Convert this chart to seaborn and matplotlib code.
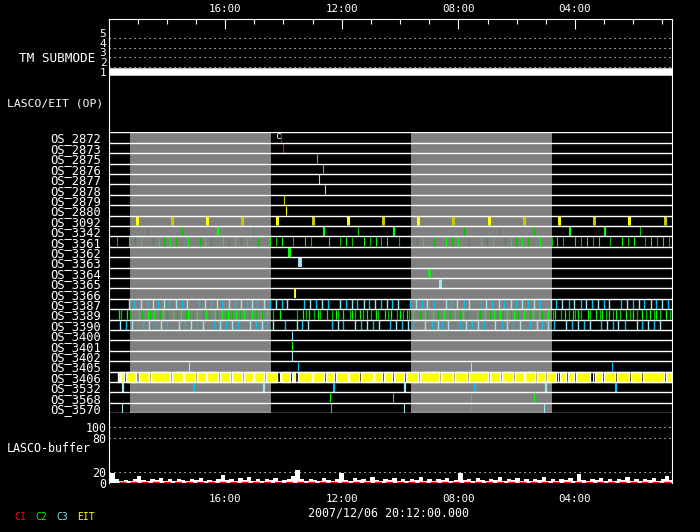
import matplotlib
matplotlib.use('Agg')
import matplotlib.pyplot as plt
import seaborn as sns
from matplotlib.ticker import FixedLocator

# time axis = hours elapsed since the left edge (clock runs 20:00 -> 00:40)
t_end = 19.31
clock_ticks = [4, 8, 12, 16]
clock_labels = ['16:00', '12:00', '08:00', '04:00']
hour_ticks = [1, 2, 3, 5, 6, 7, 9, 10, 11, 13, 14, 15, 17, 18, 19]

submode_time = [0.0, 19.31]
submode_val = [1, 1]

gap_start = [0.74, 10.37]
gap_end = [5.57, 15.20]

os_names = ['OS_2872', 'OS_2873', 'OS_2875', 'OS_2876', 'OS_2877', 'OS_2878',
            'OS_2879', 'OS_2880', 'OS_3092', 'OS_3342', 'OS_3361', 'OS_3362',
            'OS_3363', 'OS_3364', 'OS_3365', 'OS_3366', 'OS_3387', 'OS_3389',
            'OS_3390', 'OS_3400', 'OS_3401', 'OS_3402', 'OS_3405', 'OS_3406',
            'OS_3532', 'OS_3568', 'OS_3570']

os2872 = [5.92]
os2873 = [5.99]
os2875 = [7.16]
os2876 = [7.36]
os2877 = [7.23]
os2878 = [7.43]
os2879 = [6.03]
os2880 = [6.09]
os3092 = [0.97, 2.17, 3.39, 4.59, 5.79, 7.00, 8.20, 9.42, 10.62, 11.82, 13.04,
          14.24, 15.45, 16.65, 17.85, 19.08]
os3342_thin = [1.33, 2.53, 4.94, 8.56, 12.20, 13.40, 14.60, 18.23]
os3342_thick = [3.75, 7.38, 9.79, 15.82, 17.02]
os3361 = [0.30, 0.71, 0.92, 1.12, 1.54, 1.74, 1.91, 2.12, 2.32, 2.74, 3.15, 3.32,
          3.52, 3.94, 4.14, 4.35, 4.55, 4.76, 5.14, 5.55, 5.75, 5.96, 6.33, 6.75,
          6.95, 7.57, 7.95, 8.15, 8.36, 8.77, 8.97, 9.18, 9.35, 9.56, 9.97, 10.38,
          10.59, 10.79, 11.17, 11.58, 11.79, 11.99, 12.37, 12.78, 12.99, 13.19,
          13.60, 13.81, 13.98, 14.19, 14.39, 14.80, 15.21, 15.39, 15.59, 16.00,
          16.21, 16.41, 16.62, 16.82, 17.20, 17.61, 17.82, 18.02, 18.40, 18.61,
          18.81, 19.02, 19.22]
os3362 = [6.19]
os3363 = [6.56]
os3364 = [10.98]
os3365 = [11.38]
os3366 = [6.38]
os3387 = [0.69, 0.88, 1.10, 1.31, 1.52, 1.69, 1.89, 2.08, 2.30, 2.51, 2.70, 3.09,
          3.30, 3.50, 3.71, 3.91, 4.12, 4.33, 4.53, 4.74, 4.91, 5.11, 5.32, 5.53,
          5.73, 5.94, 6.11, 6.71, 6.92, 7.12, 7.33, 7.53, 7.93, 8.13, 8.34, 8.54,
          8.75, 8.92, 9.13, 9.33, 9.54, 9.73, 9.93, 10.35, 10.55, 10.74, 10.94,
          11.15, 11.56, 11.76, 11.97, 12.18, 12.36, 12.76, 12.96, 13.17, 13.38,
          13.58, 13.79, 13.97, 14.17, 14.38, 14.59, 14.79, 15.16, 15.34, 15.57,
          15.78, 15.98, 16.19, 16.39, 16.57, 16.78, 16.99, 17.17, 17.58, 17.78,
          17.99, 18.18, 18.38, 18.59, 18.79, 19.00, 19.20]
os3389 = [0.37, 0.44, 0.64, 0.75, 1.06, 1.16, 1.36, 1.43, 1.57, 1.78, 1.88, 2.00,
          2.22, 2.34, 2.50, 2.66, 2.74, 2.91, 3.04, 3.25, 3.34, 3.46, 3.65, 3.73,
          3.88, 4.04, 4.10, 4.24, 4.39, 4.51, 4.64, 4.83, 4.91, 5.05, 5.22, 5.27,
          5.42, 5.65, 5.88, 6.47, 6.68, 6.79, 6.88, 7.05, 7.19, 7.25, 7.48, 7.67,
          7.82, 7.88, 8.05, 8.28, 8.34, 8.45, 8.62, 8.73, 8.85, 9.02, 9.19, 9.25,
          9.48, 9.59, 9.69, 9.90, 9.99, 10.11, 10.24, 10.31, 10.45, 10.70, 10.84,
          10.93, 11.13, 11.31, 11.50, 11.73, 11.89, 12.07, 12.16, 12.30, 12.64,
          12.74, 12.92, 13.10, 13.22, 13.31, 13.42, 13.53, 13.67, 13.82, 13.90,
          14.06, 14.24, 14.45, 14.56, 14.68, 14.75, 14.86, 15.09, 15.25, 15.32,
          15.52, 15.66, 15.80, 15.93, 16.00, 16.12, 16.21, 16.46, 16.51, 16.71,
          16.85, 16.94, 17.08, 17.17, 17.30, 17.42, 17.53, 17.74, 17.88, 17.99,
          18.11, 18.29, 18.45, 18.56, 18.70, 18.79, 18.91, 19.11, 19.25]
os3390 = [0.40, 0.61, 0.82, 1.19, 1.40, 1.60, 1.81, 2.02, 2.41, 2.61, 2.82, 3.02,
          3.23, 3.63, 3.83, 4.02, 4.22, 4.43, 4.84, 5.05, 5.25, 5.42, 5.63, 6.04,
          6.45, 6.64, 6.85, 7.65, 7.86, 8.06, 8.45, 8.66, 8.86, 9.07, 9.27, 9.66,
          9.87, 10.05, 10.26, 10.46, 10.87, 11.08, 11.29, 11.44, 11.65, 12.06,
          12.27, 12.47, 12.68, 12.88, 13.27, 13.48, 13.68, 13.89, 14.10, 14.47,
          14.68, 14.88, 15.09, 15.27, 15.68, 15.89, 16.09, 16.30, 16.51, 16.89,
          17.10, 17.30, 17.49, 17.70, 18.11, 18.31, 18.52, 18.72, 18.93]
os3400 = [6.30]
os3401 = [6.30]
os3402 = [6.30]
os3405 = [2.77, 6.51, 12.44, 17.27]
os3406_start = [0.32, 0.43, 0.60, 1.03, 1.46, 2.17, 2.60, 3.02, 3.39, 3.83, 4.22,
                4.66, 5.00, 5.40, 5.92, 6.32, 6.51, 7.03, 7.46, 7.81, 8.24, 8.66,
                9.12, 9.44, 9.79, 10.20, 10.68, 11.41, 11.87, 12.35, 13.08, 13.49,
                13.93, 14.30, 14.70, 15.05, 15.48, 15.75, 16.03, 16.68, 17.00,
                17.45, 17.91, 18.33, 19.11]
os3406_end = [0.38, 0.54, 0.96, 1.40, 2.11, 2.54, 2.97, 3.34, 3.75, 4.17, 4.59,
              4.95, 5.34, 5.78, 6.22, 6.39, 6.98, 7.40, 7.75, 8.20, 8.60, 9.06,
              9.38, 9.74, 10.15, 10.62, 11.35, 11.81, 12.29, 13.01, 13.44, 13.88,
              14.24, 14.64, 14.97, 15.34, 15.68, 15.96, 16.51, 16.94, 17.37,
              17.85, 18.28, 19.04, 19.30]
os3406_white = [5.88, 6.31, 15.40, 16.61]
os3532 = [0.49, 2.93, 5.33, 7.74, 10.16, 12.56, 15.00, 17.40]
os3568 = [7.59, 9.76, 12.44, 14.60]
os3570 = [0.47, 7.64, 10.14, 12.44, 14.94]

# LASCO buffer fill level (%), sampled evenly across the time axis
buffer_val = [17, 17, 8, 4, 6, 4, 7, 13, 6, 4, 8, 5, 9, 4, 7, 4, 8, 6, 4, 7, 5, 9,
              4, 6, 4, 8, 14, 5, 7, 4, 9, 6, 10, 4, 7, 4, 8, 5, 9, 4, 6, 8, 12, 24,
              7, 4, 8, 6, 4, 9, 5, 4, 8, 17, 6, 4, 9, 5, 8, 4, 10, 6, 4, 8, 5, 9, 4,
              7, 4, 8, 6, 10, 4, 7, 4, 8, 5, 9, 4, 6, 18, 5, 8, 4, 9, 6, 4, 8, 5, 10,
              4, 7, 5, 9, 4, 7, 4, 8, 6, 10, 4, 7, 4, 8, 5, 9, 4, 16, 6, 4, 8, 5, 9,
              4, 7, 4, 8, 6, 10, 4, 7, 4, 8, 5, 9, 4, 7, 13, 6]
c1_time = [0.35, 19.31]
c1_val = [0.9, 0.9]

sns.set_theme(style='dark', rc={'axes.facecolor': 'black', 'figure.facecolor': 'black',
                                'axes.edgecolor': 'white', 'text.color': 'white',
                                'xtick.color': 'white', 'ytick.color': 'white'})
plt.rcParams['font.family'] = ['DejaVu Sans Mono', 'DejaVu Sans']

YEL, OLIVE = '#ffff00', '#c8c800'
GRN, DGRN = '#00ff00', '#00c000'
LCYAN, CYAN = '#99e6f5', '#00c0f0'
RED = '#ff0000'

W, H = 700, 532
L, R = 108.5, 671.5


def box(top, bottom):
    return [L / W, 1 - bottom / H, (R - L) / W, (bottom - top) / H]


fig = plt.figure(figsize=(7, 5.32), dpi=100)

# outer frame with hour ticks on top
ax_frame = fig.add_axes(box(19, 483))
ax_frame.set_facecolor('black')
ax_frame.set_xlim(0, t_end)
ax_frame.set_ylim(0, 1)
ax_frame.set_yticks([])
for s in ['top', 'left', 'right']:
    ax_frame.spines[s].set_color('white')
    ax_frame.spines[s].set_linewidth(0.8)
ax_frame.spines['bottom'].set_visible(False)
ax_frame.xaxis.set_major_locator(FixedLocator(clock_ticks))
ax_frame.xaxis.set_minor_locator(FixedLocator(hour_ticks))
ax_frame.set_xticklabels(clock_labels)
ax_frame.tick_params(axis='x', which='both', direction='in', top=True, bottom=False,
                     labeltop=True, labelbottom=False, color='white', width=0.8)
ax_frame.tick_params(axis='x', which='major', length=7.5, pad=3.5, labelsize=7.8,
                     labelcolor='white')
ax_frame.tick_params(axis='x', which='minor', length=3.8)

# TM submode panel
ax_sub = fig.add_axes(box(28, 77))
ax_sub.set_facecolor('none')
sns.lineplot(x=submode_time, y=submode_val, ax=ax_sub, color='white', linewidth=5.4)
for v in [1.5, 2.5, 3.5, 4.5]:
    ax_sub.axhline(v, color='white', lw=0.8, ls=(0, (1, 3.5)))
ax_sub.set_xlim(0, t_end)
ax_sub.set_ylim(0.49, 5.51)
ax_sub.set_xticks([])
ax_sub.set_yticks([1, 2, 3, 4, 5])
ax_sub.tick_params(axis='y', length=0, pad=1.5, labelsize=8, labelcolor='white')
for s in ax_sub.spines.values():
    s.set_visible(False)

# observing-sequence rows
ax_os = fig.add_axes(box(132.3, 413.3))
ax_os.set_facecolor('none')
n = len(os_names)
for a, b in zip(gap_start, gap_end):
    ax_os.axvspan(a, b, color='#808080', lw=0, zorder=0)


def marks(name, times, colors, width):
    i = os_names.index(name)
    cols = [colors[k % len(colors)] for k in range(len(times))]
    ax_os.vlines(times, i + 0.05, i + 0.95, colors=cols, linewidth=width, zorder=2)


marks('OS_2872', os2872, [RED], 0.8)
marks('OS_2873', os2873, [RED], 0.8)
marks('OS_2875', os2875, [GRN], 0.8)
marks('OS_2876', os2876, [GRN], 0.8)
marks('OS_2877', os2877, [LCYAN], 0.8)
marks('OS_2878', os2878, [LCYAN], 0.8)
marks('OS_2879', os2879, [OLIVE], 0.8)
marks('OS_2880', os2880, [YEL], 0.8)
marks('OS_3092', os3092, [YEL, OLIVE], 2.2)
marks('OS_3342', os3342_thin, [DGRN], 0.8)
marks('OS_3342', os3342_thick, [GRN], 1.6)
marks('OS_3361', os3361, [DGRN, GRN], 0.8)
marks('OS_3362', os3362, [GRN], 2.2)
marks('OS_3363', os3363, [LCYAN], 2.8)
marks('OS_3364', os3364, [GRN], 1.8)
marks('OS_3365', os3365, [LCYAN], 2.2)
marks('OS_3366', os3366, [YEL], 1.4)
marks('OS_3387', os3387, [LCYAN, CYAN], 1.0)
marks('OS_3389', os3389, [GRN, DGRN], 0.9)
marks('OS_3390', os3390, [LCYAN, CYAN], 1.0)
marks('OS_3400', os3400, [LCYAN], 0.8)
marks('OS_3401', os3401, [GRN], 0.8)
marks('OS_3402', os3402, [LCYAN], 0.8)
marks('OS_3405', os3405, [LCYAN, CYAN], 0.8)
i3406 = os_names.index('OS_3406')
ax_os.broken_barh([(a, b - a) for a, b in zip(os3406_start, os3406_end)],
                  (i3406 + 0.05, 0.9), facecolors=YEL, zorder=2)
marks('OS_3406', os3406_white, ['white'], 0.8)
marks('OS_3532', os3532, [LCYAN, CYAN], 1.6)
marks('OS_3568', os3568, [GRN], 0.8)
marks('OS_3570', os3570, [LCYAN, CYAN], 0.8)
ax_os.text(5.81, 0.4, 'c', color='white', fontsize=7, ha='center', va='center')

ax_os.hlines(range(n + 1), 0, t_end, color='white', lw=1.0, zorder=3)
ax_os.set_xlim(0, t_end)
ax_os.set_ylim(n, 0)
ax_os.set_xticks([])
ax_os.set_yticks([k + 0.5 for k in range(n)])
ax_os.set_yticklabels(os_names)
ax_os.tick_params(axis='y', length=0, pad=5.2, labelsize=8.7, labelcolor='white')
for s in ax_os.spines.values():
    s.set_visible(False)

# LASCO buffer panel
ax_buf = fig.add_axes(box(414, 483))
ax_buf.set_facecolor('none')
buffer_time = [t_end * k / (len(buffer_val) - 1) for k in range(len(buffer_val))]
ax_buf.fill_between(buffer_time, 0, buffer_val, step='mid', color='white', lw=0)
sns.lineplot(x=c1_time, y=c1_val, ax=ax_buf, color=RED, linewidth=1.0,
             dashes=False, linestyle=(0, (5, 3)))
for v in [20, 80, 100]:
    ax_buf.axhline(v, color='white', lw=0.8, ls=(0, (1, 3.5)))
ax_buf.set_xlim(0, t_end)
ax_buf.set_ylim(0, 123)
ax_buf.set_yticks([0, 20, 80, 100])
ax_buf.set_xticks(clock_ticks)
ax_buf.set_xticklabels(clock_labels)
ax_buf.tick_params(axis='y', length=0, pad=1.5, labelsize=8.4, labelcolor='white')
ax_buf.tick_params(axis='x', length=0, pad=8, labelsize=7.8, labelcolor='white')
for s in ax_buf.spines.values():
    s.set_visible(False)


def ftext(x, y, s, **kw):
    fig.text(x / W, 1 - y / H, s, va='center', **kw)


ftext(95, 58, 'TM SUBMODE', ha='right', fontsize=9.2, color='white')
ftext(7, 104, 'LASCO/EIT (OP)', ha='left', fontsize=8.2, color='white')
ftext(7, 449, 'LASCO-buffer', ha='left', fontsize=8.4, color='white')
ftext(389, 513, '2007/12/06 20:12:00.000', ha='center', fontsize=8.4, color='white')
ftext(14, 517, 'C1', ha='left', fontsize=7, color=RED)
ftext(35, 517, 'C2', ha='left', fontsize=7, color=GRN)
ftext(56, 517, 'C3', ha='left', fontsize=7, color=LCYAN)
ftext(77, 517, 'EIT', ha='left', fontsize=7, color=YEL)

fig.savefig('out.png', dpi=100, facecolor='black')
